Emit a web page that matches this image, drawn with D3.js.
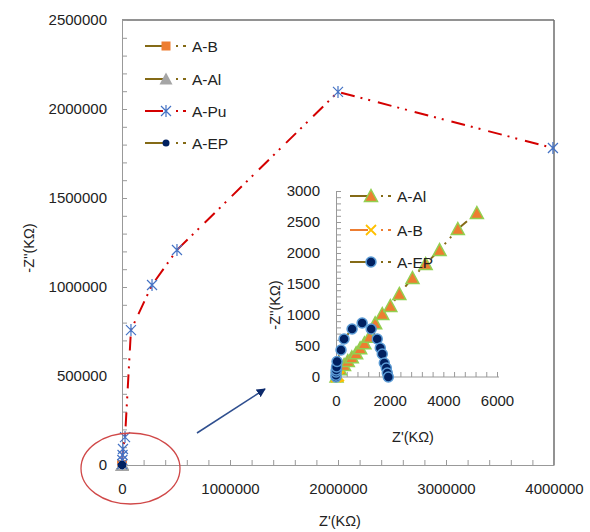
<!DOCTYPE html>
<html>
<head>
<meta charset="utf-8">
<script src="https://cdn.jsdelivr.net/npm/d3@7"></script>
<style>
  body { margin: 0; background: #fff; }
  text { font-family: "Liberation Sans", Arial, sans-serif; fill: #222; }
</style>
</head>
<body>
<div id="chart"></div>
<script>
// main chart, values in KΩ
var puX = [2000, 3000, 5000, 9000, 28000, 83000, 278000, 509000, 2000000, 3990000];
var puY = [5000, 28000, 56000, 90000, 157000, 758000, 1011000, 1208000, 2096000, 1781000];

// inset, values in KΩ
var alX = [20, 150, 300, 440, 590, 750, 900, 1060, 1250, 1460, 1725, 2025, 2360, 2850, 3340, 3860, 4540, 5250];
var alY = [10, 124, 194, 258, 318, 382, 463, 543, 650, 866, 1016, 1145, 1339, 1597, 1823, 2048, 2387, 2645];
var bX = [0, 20, 60, 110];
var bY = [0, 4, 8, 12];
var epX = [0, 0, 5, 10, 20, 40, 187, 300, 600, 975, 1312, 1537, 1650, 1725, 1800, 1875, 1912, 1950];
var epY = [0, 30, 80, 113, 161, 250, 436, 613, 774, 871, 774, 613, 468, 371, 226, 145, 65, 0];

var mainXTicks = [0, 1000000, 2000000, 3000000, 4000000];
var mainYTicks = [0, 500000, 1000000, 1500000, 2000000, 2500000];
var insetXTicks = [0, 2000, 4000, 6000];
var insetYTicks = [0, 500, 1000, 1500, 2000, 2500, 3000];

var width = 590, height = 532;
var olive = "#846a16", red = "#d40000", blue = "#4472c4", orange = "#ed7d31",
    navy = "#002060", gray = "#a5a5a5", green = "#92d050", yellow = "#ffc000";
var dashDot = "14,6,2,6,2,8";

var svg = d3.select("#chart").append("svg")
    .attr("width", width)
    .attr("height", height);

function zip(xs, ys) { return xs.map(function(v, i) { return [v, ys[i]]; }); }

// ---------- main chart ----------
var x = d3.scaleLinear().domain([0, 4000000]).range([122, 554]);
var y = d3.scaleLinear().domain([0, 2500000]).range([465, 20]);

// frame top & right
svg.append("line").attr("x1", 122).attr("x2", 554).attr("y1", 20).attr("y2", 20)
    .attr("stroke", "#6e6e6e").attr("stroke-width", 1.5);
svg.append("line").attr("x1", 554).attr("x2", 554).attr("y1", 20).attr("y2", 465)
    .attr("stroke", "#6e6e6e").attr("stroke-width", 1.5);

function styleAxis(g) {
    g.select(".domain").attr("stroke", "#999");
    g.selectAll(".tick line").attr("stroke", "#999");
    g.selectAll("text").attr("font-size", 15).attr("fill", "#222")
        .attr("font-family", "'Liberation Sans', Arial, sans-serif");
}

var xAxis = svg.append("g").attr("transform", "translate(0,465)")
    .call(d3.axisBottom(x)
        .tickValues(d3.range(0, 4000001, 200000))
        .tickSize(-5).tickSizeOuter(0).tickPadding(18)
        .tickFormat(function(d) { return mainXTicks.indexOf(d) >= 0 ? d3.format("d")(d) : ""; }));
styleAxis(xAxis);

var yAxis = svg.append("g").attr("transform", "translate(122,0)")
    .call(d3.axisLeft(y)
        .tickValues(d3.range(0, 2500001, 100000))
        .tickSize(-5).tickSizeOuter(0).tickPadding(15)
        .tickFormat(function(d) { return mainYTicks.indexOf(d) >= 0 ? d3.format("d")(d) : ""; }));
styleAxis(yAxis);

svg.append("text").attr("x", 340).attr("y", 526).attr("text-anchor", "middle")
    .attr("font-size", 14.5).text("Z'(KΩ)");
svg.append("text").attr("transform", "translate(34,248) rotate(-90)")
    .attr("text-anchor", "middle").attr("font-size", 14.5).text("-Z''(KΩ)");

// marker helpers
function square(g, px, py, fill) {
    g.append("rect").attr("x", px - 4.5).attr("y", py - 4.5).attr("width", 9).attr("height", 9)
        .attr("fill", fill);
}
function triangle(g, px, py, fill, stroke) {
    g.append("path").attr("d", "M" + px + "," + (py - 6.5) + "L" + (px + 6.5) + "," + (py + 5.5) + "L" + (px - 6.5) + "," + (py + 5.5) + "Z")
        .attr("fill", fill).attr("stroke", stroke || "none").attr("stroke-width", 1.5);
}
function star(g, px, py, col) {
    g.append("path").attr("d",
        "M" + (px - 5) + "," + (py - 5) + "L" + (px + 5) + "," + (py + 5) +
        "M" + (px - 5) + "," + (py + 5) + "L" + (px + 5) + "," + (py - 5) +
        "M" + px + "," + (py - 6) + "L" + px + "," + (py + 6))
        .attr("stroke", col).attr("stroke-width", 1.2).attr("fill", "none");
}
function cross(g, px, py, col) {
    g.append("path").attr("d",
        "M" + (px - 5) + "," + (py - 5) + "L" + (px + 5) + "," + (py + 5) +
        "M" + (px - 5) + "," + (py + 5) + "L" + (px + 5) + "," + (py - 5))
        .attr("stroke", col).attr("stroke-width", 1.8).attr("fill", "none");
}
function dot(g, px, py, fill, stroke, r) {
    g.append("circle").attr("cx", px).attr("cy", py).attr("r", r || 4.5)
        .attr("fill", fill).attr("stroke", stroke || "none").attr("stroke-width", 1.5);
}

function drawSeries(g, sx, sy, xs, ys, col, marker) {
    var data = zip(xs, ys);
    var line = d3.line().x(function(d) { return sx(d[0]); }).y(function(d) { return sy(d[1]); });
    g.append("path").datum(data).attr("d", line).attr("fill", "none")
        .attr("stroke", col).attr("stroke-width", 2).attr("stroke-dasharray", dashDot);
    data.forEach(function(d) { marker(g, sx(d[0]), sy(d[1])); });
}

var mainG = svg.append("g");
drawSeries(mainG, x, y, bX, bY, olive, function(g, a, b) { square(g, a, b, orange); });
drawSeries(mainG, x, y, alX, alY, olive, function(g, a, b) { triangle(g, a, b, gray); });
drawSeries(mainG, x, y, puX, puY, red, function(g, a, b) { star(g, a, b, blue); });
drawSeries(mainG, x, y, epX, epY, olive, function(g, a, b) { dot(g, a, b, navy, null, 3.5); });

// main legend
var mainLegend = [
    { name: "A-B", col: olive, m: function(g, a, b) { square(g, a, b, orange); } },
    { name: "A-Al", col: olive, m: function(g, a, b) { triangle(g, a, b, gray); } },
    { name: "A-Pu", col: red, m: function(g, a, b) { star(g, a, b, blue); } },
    { name: "A-EP", col: olive, m: function(g, a, b) { dot(g, a, b, navy, null, 3.5); } }
];
function legendRow(g, lx, ly, item) {
    g.append("line").attr("x1", lx).attr("x2", lx + 18).attr("y1", ly).attr("y2", ly)
        .attr("stroke", item.col).attr("stroke-width", 2);
    g.append("line").attr("x1", lx + 31).attr("x2", lx + 33).attr("y1", ly).attr("y2", ly)
        .attr("stroke", item.col).attr("stroke-width", 2);
    g.append("line").attr("x1", lx + 38).attr("x2", lx + 41).attr("y1", ly).attr("y2", ly)
        .attr("stroke", item.col).attr("stroke-width", 2);
    item.m(g, lx + 21, ly);
    g.append("text").attr("x", lx + 47).attr("y", ly + 5.5).attr("font-size", 15.5).text(item.name);
}
mainLegend.forEach(function(item, i) {
    legendRow(svg, 145, [46, 79, 111, 143][i], item);
});

// ---------- inset ----------
var ix = d3.scaleLinear().domain([0, 6000]).range([336, 497]);
var iy = d3.scaleLinear().domain([0, 3000]).range([377, 191]);

var ixAxis = svg.append("g").attr("transform", "translate(0,377)")
    .call(d3.axisBottom(ix)
        .tickValues(d3.range(0, 6001, 400))
        .tickSize(-5).tickSizeOuter(0).tickPadding(18)
        .tickFormat(function(d) { return insetXTicks.indexOf(d) >= 0 ? d : ""; }));
styleAxis(ixAxis);
ixAxis.select(".domain").attr("d", "M336,0H499");

var iyAxis = svg.append("g").attr("transform", "translate(336,0)")
    .call(d3.axisLeft(iy)
        .tickValues(d3.range(0, 3001, 100))
        .tickSize(-5).tickSizeOuter(0).tickPadding(16)
        .tickFormat(function(d) { return insetYTicks.indexOf(d) >= 0 ? d : ""; }));
styleAxis(iyAxis);

svg.append("text").attr("x", 413).attr("y", 442).attr("text-anchor", "middle")
    .attr("font-size", 14.5).text("Z'(KΩ)");
svg.append("text").attr("transform", "translate(280,305) rotate(-90)")
    .attr("text-anchor", "middle").attr("font-size", 14.5).text("-Z''(KΩ)");

var insetG = svg.append("g");
drawSeries(insetG, ix, iy, alX, alY, olive, function(g, a, b) { triangle(g, a, b, orange, green); });
drawSeries(insetG, ix, iy, bX, bY, orange, function(g, a, b) { cross(g, a, b, yellow); });
drawSeries(insetG, ix, iy, epX, epY, olive, function(g, a, b) { dot(g, a, b, navy, "#5b9bd5", 5); });

var insetLegend = [
    { name: "A-Al", col: olive, m: function(g, a, b) { triangle(g, a, b, orange, green); } },
    { name: "A-B", col: orange, m: function(g, a, b) { cross(g, a, b, yellow); } },
    { name: "A-EP", col: olive, m: function(g, a, b) { dot(g, a, b, navy, "#5b9bd5", 5); } }
];
insetLegend.forEach(function(item, i) {
    legendRow(svg, 350, [196, 230, 262][i], item);
});

// ---------- annotations ----------
svg.append("defs").append("marker")
    .attr("id", "head").attr("viewBox", "0 0 10 10").attr("refX", 9).attr("refY", 5)
    .attr("markerWidth", 6).attr("markerHeight", 6).attr("orient", "auto")
    .append("path").attr("d", "M0,0L10,5L0,10Z").attr("fill", "#0d2a6b");
svg.append("line").attr("x1", 197).attr("y1", 433).attr("x2", 265).attr("y2", 389)
    .attr("stroke", "#2f4f8f").attr("stroke-width", 1.5).attr("marker-end", "url(#head)");

svg.append("ellipse").attr("cx", 130.5).attr("cy", 468.5).attr("rx", 49.5).attr("ry", 35.5)
    .attr("fill", "none").attr("stroke", "#d04848").attr("stroke-width", 1.3);
</script>
</body>
</html>
